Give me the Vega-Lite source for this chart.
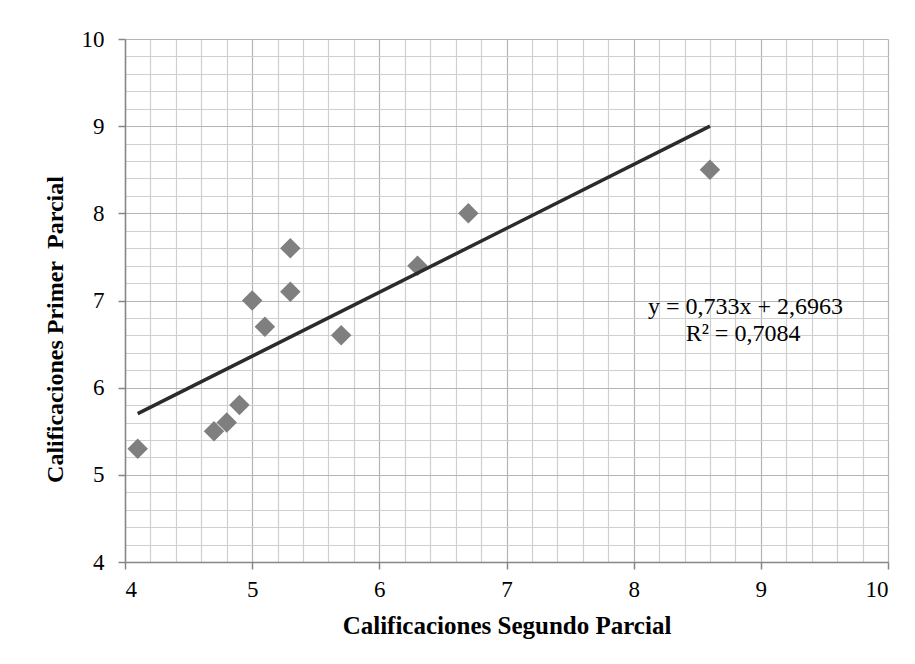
{
  "$schema": "https://vega.github.io/schema/vega-lite/v6.json",
  "width": 763,
  "height": 523,
  "padding": {"left": 125, "top": 39, "right": 27, "bottom": 102},
  "autosize": {"type": "none"},
  "background": "white",
  "config": {
    "view": {"stroke": null},
    "font": "Liberation Serif",
    "axis": {
      "labelFont": "Liberation Serif",
      "titleFont": "Liberation Serif",
      "labelFontSize": 23,
      "titleFontSize": 25,
      "titleFontWeight": "bold",
      "labelColor": "#000000",
      "titleColor": "#000000",
      "domainColor": "#868686",
      "domainWidth": 1.5,
      "tickColor": "#868686",
      "tickWidth": 1.5,
      "gridWidth": 1.2
    }
  },
  "data": {
    "values": [
      {"segundo": 4.1, "primer": 5.3},
      {"segundo": 4.7, "primer": 5.5},
      {"segundo": 4.8, "primer": 5.6},
      {"segundo": 4.9, "primer": 5.8},
      {"segundo": 5.0, "primer": 7.0},
      {"segundo": 5.1, "primer": 6.7},
      {"segundo": 5.3, "primer": 7.6},
      {"segundo": 5.3, "primer": 7.1},
      {"segundo": 5.7, "primer": 6.6},
      {"segundo": 6.3, "primer": 7.4},
      {"segundo": 6.7, "primer": 8.0},
      {"segundo": 8.6, "primer": 8.5}
    ]
  },
  "encoding": {
    "x": {
      "field": "segundo", "type": "quantitative",
      "scale": {"domain": [4, 10], "nice": false, "zero": false},
      "title": "Calificaciones Segundo Parcial",
      "axis": {
        "values": [4,4.2,4.4,4.6,4.8,5,5.2,5.4,5.6,5.8,6,6.2,6.4,6.6,6.8,7,7.2,7.4,7.6,7.8,8,8.2,8.4,8.6,8.8,9,9.2,9.4,9.6,9.8,10],
        "format": "~g",
        "labelExpr": "round(datum.value) == datum.value ? datum.label : ''",
        "gridColor": {"condition": {"test": "round(datum.value) == datum.value", "value": "#b4b4b4"}, "value": "#cfcfcf"},
        "tickOpacity": {"condition": {"test": "round(datum.value) == datum.value", "value": 1}, "value": 0},
        "tickSize": 7,
        "labelPadding": 9,
        "titlePadding": 12
      }
    },
    "y": {
      "field": "primer", "type": "quantitative",
      "scale": {"domain": [4, 10], "nice": false, "zero": false},
      "title": "Calificaciones Primer\u00a0 Parcial",
      "axis": {
        "values": [4,4.2,4.4,4.6,4.8,5,5.2,5.4,5.6,5.8,6,6.2,6.4,6.6,6.8,7,7.2,7.4,7.6,7.8,8,8.2,8.4,8.6,8.8,9,9.2,9.4,9.6,9.8,10],
        "format": "~g",
        "labelExpr": "round(datum.value) == datum.value ? datum.label : ''",
        "gridColor": {"condition": {"test": "round(datum.value) == datum.value", "value": "#b4b4b4"}, "value": "#cfcfcf"},
        "tickOpacity": {"condition": {"test": "round(datum.value) == datum.value", "value": 1}, "value": 0},
        "tickSize": 7,
        "labelPadding": 14,
        "titlePadding": 14,
        "titleFontSize": 24,
        "titleY": 290
      }
    }
  },
  "layer": [
    {
      "mark": {"type": "point", "shape": "diamond", "filled": true, "size": 420, "color": "#7f7f7f", "opacity": 1}
    },
    {
      "transform": [{"regression": "primer", "on": "segundo"}],
      "mark": {"type": "line", "color": "#2b2b2b", "strokeWidth": 3.5}
    },
    {
      "data": {
        "values": [
          {"segundo": 8.88, "primer": 6.92, "label": "y = 0,733x + 2,6963"},
          {"segundo": 8.86, "primer": 6.61, "label": "R² = 0,7084"}
        ]
      },
      "mark": {"type": "text", "font": "Liberation Serif", "fontSize": 24, "align": "center", "baseline": "middle", "color": "#000000"},
      "encoding": {
        "text": {"field": "label", "type": "nominal"}
      }
    }
  ]
}
